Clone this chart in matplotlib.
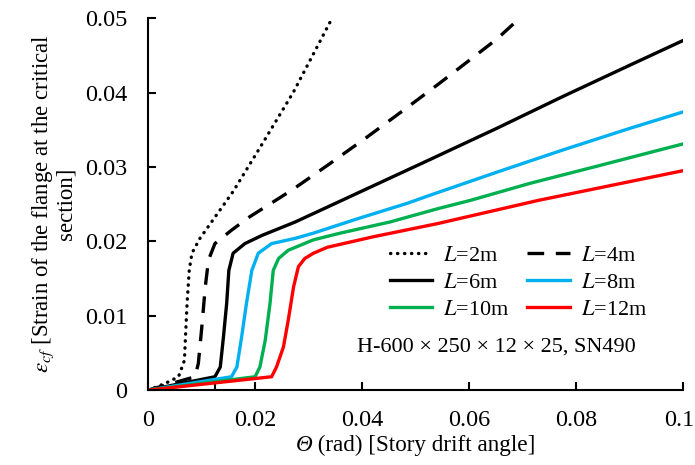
import matplotlib
matplotlib.use("Agg")
import matplotlib.pyplot as plt
import matplotlib.transforms as mtransforms
from matplotlib.offsetbox import TextArea, HPacker, AnchoredOffsetbox

plt.rcParams['font.family'] = ['Liberation Serif', 'DejaVu Serif']
plt.rcParams['mathtext.fontset'] = 'stix'

# ---- data ----
x2 = [0, 0.0032, 0.0057, 0.0068, 0.0070, 0.0073, 0.0077, 0.0082, 0.0097, 0.0159, 0.0216, 0.0272, 0.0344]
y2 = [0, 0.0009, 0.0018, 0.0040, 0.0072, 0.0117, 0.0161, 0.0184, 0.0204, 0.0267, 0.0334, 0.0401, 0.0500]

x4 = [0, 0.0088, 0.0094, 0.0100, 0.0107, 0.0113, 0.0125, 0.0156, 0.0190, 0.0234, 0.0269,
      0.0335, 0.0409, 0.0477, 0.0542, 0.0589, 0.0652, 0.0690]
y4 = [0, 0.0018, 0.0036, 0.0081, 0.0139, 0.0175, 0.0197, 0.0215, 0.0233, 0.0253, 0.0269,
      0.0302, 0.0340, 0.0376, 0.0411, 0.0437, 0.0472, 0.0497]

x6 = [0, 0.0125, 0.0135, 0.0141, 0.0147, 0.0151, 0.0159, 0.0181, 0.0213, 0.0275, 0.0359,
      0.0452, 0.0527, 0.0652, 0.0776, 0.0901, 0.1]
y6 = [0, 0.0018, 0.0031, 0.0072, 0.0117, 0.0161, 0.0184, 0.0197, 0.0208, 0.0226, 0.0254,
      0.0285, 0.0310, 0.0352, 0.0395, 0.0437, 0.0470]

x8 = [0, 0.0156, 0.0166, 0.0175, 0.0184, 0.0194, 0.0206, 0.0231, 0.0275, 0.0309, 0.0390,
      0.0484, 0.0527, 0.0652, 0.0776, 0.0901, 0.1]
y8 = [0, 0.0018, 0.0031, 0.0072, 0.0117, 0.0161, 0.0184, 0.0197, 0.0204, 0.0211, 0.0230,
      0.0251, 0.0262, 0.0293, 0.0323, 0.0352, 0.0374]

x10 = [0, 0.0200, 0.0209, 0.0219, 0.0228, 0.0234, 0.0244, 0.0262, 0.0309, 0.0359, 0.0452,
       0.0542, 0.0602, 0.0714, 0.0839, 0.1]
y10 = [0, 0.0018, 0.0031, 0.0067, 0.0117, 0.0161, 0.0177, 0.0188, 0.0202, 0.0211, 0.0226,
       0.0244, 0.0255, 0.0278, 0.0301, 0.0331]

x12 = [0, 0.0231, 0.0240, 0.0253, 0.0262, 0.0272, 0.0281, 0.0293, 0.0309, 0.0335, 0.0420,
       0.0542, 0.0729, 0.1]
y12 = [0, 0.0018, 0.0031, 0.0058, 0.0094, 0.0139, 0.0166, 0.0177, 0.0184, 0.0192, 0.0206,
       0.0224, 0.0255, 0.0295]

labels = ["$L$=2m", "$L$=4m", "$L$=6m", "$L$=8m", "$L$=10m", "$L$=12m"]
xticks = [0, 0.02, 0.04, 0.06, 0.08, 0.1]
xticklabels = ["0", "0.02", "0.04", "0.06", "0.08", "0.1"]
yticks = [0, 0.01, 0.02, 0.03, 0.04, 0.05]
yticklabels = ["0", "0.01", "0.02", "0.03", "0.04", "0.05"]
extra_xtick = [0.0125]

fig = plt.figure(figsize=(6.95, 4.65), dpi=100)
ax = fig.add_axes([0.213, 0.161, 0.770, 0.800])

lw = 2.4
h2, = ax.plot(x2, y2, color='black', lw=lw, dashes=(0.1, 2.0), dash_capstyle='round', label=labels[0])
h4, = ax.plot(x4, y4, color='black', lw=lw, dashes=(5, 3.5), label=labels[1])
h6, = ax.plot(x6, y6, color='black', lw=lw, label=labels[2])
h8, = ax.plot(x8, y8, color='#00B0F0', lw=lw, label=labels[3])
h10, = ax.plot(x10, y10, color='#00B050', lw=lw, label=labels[4])
h12, = ax.plot(x12, y12, color='#FF0000', lw=lw, label=labels[5])

ax.set_xlim(0, 0.1)
ax.set_ylim(0, 0.05)
ax.set_xticks(xticks)
ax.set_xticklabels(xticklabels)
ax.set_xticks(extra_xtick, minor=True)
ax.set_yticks(yticks)
ax.set_yticklabels(yticklabels)
ax.tick_params(axis='both', which='both', direction='in', length=6, width=1.5,
               labelsize=17.5, colors='black')
ax.tick_params(axis='x', pad=14)
ax.tick_params(axis='y', pad=15)
# nudge last x tick label so it stays inside the figure
last = ax.get_xticklabels()[-1]
last.set_transform(last.get_transform() + mtransforms.ScaledTranslation(-4 / 100, 0, fig.dpi_scale_trans))

for s in ['top', 'right']:
    ax.spines[s].set_visible(False)
for s in ['left', 'bottom']:
    ax.spines[s].set_linewidth(1.5)
    ax.spines[s].set_color('black')

# x label with italic Theta
ta1 = TextArea("Θ", textprops=dict(fontsize=16.7, fontstyle='italic', family='Liberation Serif'))
ta2 = TextArea(" (rad) [Story drift angle]", textprops=dict(fontsize=16.7, family='Liberation Serif'))
pack = HPacker(children=[ta1, ta2], sep=0, pad=0, align='baseline')
xlab = AnchoredOffsetbox(loc='center', child=pack, bbox_to_anchor=(0.5, -0.148),
                         bbox_transform=ax.transAxes, frameon=False, pad=0, borderpad=0)
ax.add_artist(xlab)

ax.set_ylabel("$\\varepsilon_{cf}$ [Strain of the flange at the critical\nsection]",
              fontsize=16.5, labelpad=6, linespacing=0.95)

handles = [h2, h6, h10, h4, h8, h12]
leg = ax.legend(handles, [h.get_label() for h in handles], ncol=2, frameon=False,
                loc='upper left', bbox_to_anchor=(0.452, 0.39), fontsize=16,
                handlelength=1.9, handletextpad=0.5, columnspacing=0.8,
                labelspacing=0.3, borderaxespad=0, borderpad=0)

ax.text(0.39, 0.117, "H-600 × 250 × 12 × 25, SN490", transform=ax.transAxes,
        fontsize=16, ha='left', va='center')

fig.savefig("out.png", dpi=100)
